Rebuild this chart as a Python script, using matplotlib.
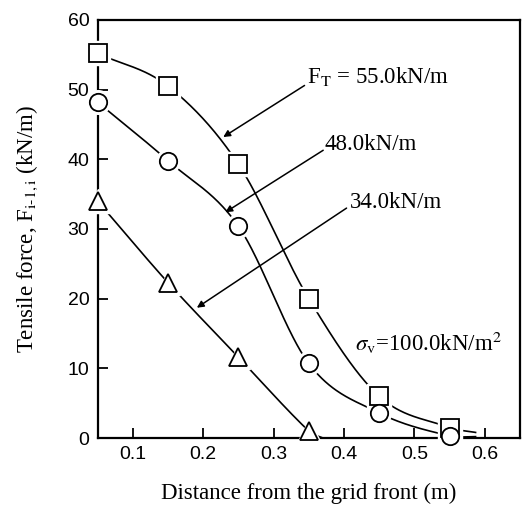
import numpy as np
import matplotlib.pyplot as plt

plt.rcParams['font.family'] = ['Liberation Serif', 'DejaVu Serif']
plt.rcParams['mathtext.fontset'] = 'stix'

# Distance from the grid front (m) for the measured points
x_pts = [0.05, 0.15, 0.25, 0.35, 0.45, 0.55]

# Tensile force (kN/m) for each pullout force level
f_55 = [55.2, 50.5, 39.3, 20.0, 6.0, 1.5]
f_48 = [48.2, 39.8, 30.4, 10.7, 3.6, 0.3]
x_tri = [0.05, 0.15, 0.25, 0.35]
f_34 = [34.0, 22.3, 11.6, 1.0]

# where the drawn curves stop (x, y)
end_55 = (0.587, 0.8)
end_48 = (0.587, 0.2)
end_34 = (0.37, 0.0)

labels = ['F$_{\\mathrm{T}}$ = 55.0kN/m', '48.0kN/m', '34.0kN/m']


def smooth(x, y, n=60):
    # Catmull-Rom style curve through the points
    x = np.asarray(x, float)
    y = np.asarray(y, float)
    m = np.zeros_like(y)
    m[0] = (y[1] - y[0]) / (x[1] - x[0])
    m[-1] = (y[-1] - y[-2]) / (x[-1] - x[-2])
    m[1:-1] = (y[2:] - y[:-2]) / (x[2:] - x[:-2])
    px, py = [], []
    for k in range(len(x) - 1):
        h = x[k + 1] - x[k]
        t = np.linspace(0, 1, n)
        h00 = 2 * t**3 - 3 * t**2 + 1
        h10 = t**3 - 2 * t**2 + t
        h01 = -2 * t**3 + 3 * t**2
        h11 = t**3 - t**2
        px.append(x[k] + t * h)
        py.append(h00 * y[k] + h10 * h * m[k] + h01 * y[k + 1] + h11 * h * m[k + 1])
    return np.concatenate(px), np.concatenate(py)


fig = plt.figure(figsize=(5.22, 5.12), dpi=100)
ax = fig.add_axes([0.187, 0.1445, 0.809, 0.8165])

series = [(x_pts, f_55, end_55, 's'), (x_pts, f_48, end_48, 'o'), (x_tri, f_34, end_34, '^')]
for xs, ys, end, mk in series:
    cx, cy = smooth(list(xs) + [end[0]], list(ys) + [end[1]])
    ax.plot(cx, np.maximum(cy, 0), color='black', lw=1.2, zorder=2)
    ax.plot(xs, ys, linestyle='none', marker=mk, ms=17, mfc='white', mec='white',
            zorder=3, clip_on=False)
    ax.plot(xs, ys, linestyle='none', marker=mk, ms=12.5, mfc='white', mec='black',
            mew=1.3, zorder=4, clip_on=False)

# labels with arrows pointing to the curves
arrow = dict(arrowstyle='-|>', color='black', lw=1.1, mutation_scale=10, shrinkA=0, shrinkB=0)
ax.annotate('', xy=(0.2285, 43.2), xytext=(0.344, 50.6), arrowprops=arrow, zorder=5)
ax.annotate('', xy=(0.2315, 32.4), xytext=(0.3705, 41.3), arrowprops=arrow, zorder=5)
ax.annotate('', xy=(0.191, 18.7), xytext=(0.4037, 33.0), arrowprops=arrow, zorder=5)
ax.text(0.347, 50.9, labels[0], fontsize=16.5, va='baseline', ha='left')
ax.text(0.372, 41.3, labels[1], fontsize=16.5, va='baseline', ha='left')
ax.text(0.408, 33.0, labels[2], fontsize=16.5, va='baseline', ha='left')
ax.text(0.415, 12.5, '$\\sigma_{\\mathrm{v}}$=100.0kN/m$^{2}$', fontsize=16.5, va='baseline', ha='left')

ax.set_xlim(0.05, 0.65)
ax.set_ylim(0, 60)
ax.set_xticks([0.1, 0.2, 0.3, 0.4, 0.5, 0.6])
ax.set_xticklabels(['0.1', '0.2', '0.3', '0.4', '0.5', '0.6'], family='Liberation Sans', fontsize=14)
ax.set_yticks([0, 10, 20, 30, 40, 50, 60])
ax.set_yticklabels(['0', '10', '20', '30', '40', '50', '60'], family='Liberation Sans', fontsize=14)
ax.tick_params(direction='in', length=7, width=1.3, pad=6)
for s in ax.spines.values():
    s.set_linewidth(1.6)

ax.set_xlabel('Distance from the grid front (m)', fontsize=16.5, labelpad=14)
ax.set_ylabel('Tensile force, F$_{\\mathrm{i\\text{-}1,i}}$ (kN/m)', fontsize=16.5, labelpad=20)

fig.savefig('out.png', dpi=100)
